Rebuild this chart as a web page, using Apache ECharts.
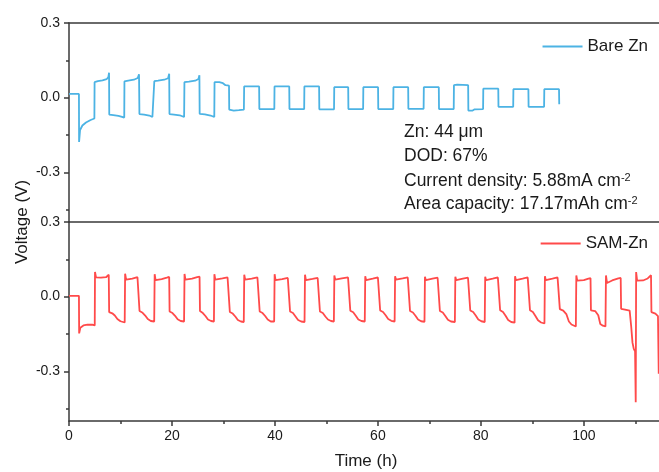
<!DOCTYPE html>
<html><head><meta charset="utf-8">
<script src="https://cdn.jsdelivr.net/npm/echarts@6/dist/echarts.min.js"></script>
<style>html,body{margin:0;padding:0;background:#fff}#c{width:659px;height:472px}</style>
</head><body><div id="c"></div>
<script>
// ---- data: [time (h), voltage (V)] ----
const bareZn = [
[0,0.015],[1.93,0.015],
[1.96,-0.178],[2.15,-0.13],[2.6,-0.112],[3.3,-0.1],[4.2,-0.09],[4.93,-0.084],
[4.97,0.062],[5.6,0.066],[6.5,0.069],[7.3,0.074],[7.65,0.083],[7.78,0.1],
[7.82,-0.068],[8.6,-0.07],[9.6,-0.073],[10.3,-0.077],[10.73,-0.08],
[10.77,0.065],[11.5,0.068],[12.6,0.072],[13.35,0.079],[13.6,0.094],
[13.68,-0.066],[14.6,-0.068],[15.6,-0.072],[16.2,-0.078],[16.52,-0.083],
[16.57,0.066],[17.3,0.068],[18.5,0.072],[19.25,0.078],[19.46,0.096],
[19.52,-0.066],[20.4,-0.068],[21.5,-0.071],[22.36,-0.078],
[22.42,0.062],[23.3,0.064],[24.5,0.068],[25.15,0.075],[25.33,0.09],
[25.38,-0.065],[26.4,-0.067],[27.5,-0.072],[28.22,-0.078],
[28.27,0.062],[29.2,0.062],[29.9,0.058],[30.4,0.05],[31.08,0.048],
[31.12,-0.048],[32,-0.052],[33,-0.05],[33.97,-0.048],
[34.02,0.045],[36.93,0.045],
[36.97,-0.046],[39.88,-0.046],
[39.92,0.045],[42.78,0.045],
[42.82,-0.046],[45.68,-0.046],
[45.72,0.045],[48.58,0.045],
[48.62,-0.047],[51.48,-0.047],
[51.52,0.042],[54.23,0.042],
[54.27,-0.046],[57.13,-0.046],
[57.17,0.042],[60.03,0.042],
[60.07,-0.046],[62.98,-0.046],
[63.02,0.042],[65.88,0.042],
[65.92,-0.045],[68.88,-0.045],
[68.92,0.042],[71.83,0.042],
[71.87,-0.046],[74.73,-0.046],
[74.77,0.05],[75.4,0.052],[77.53,0.05],
[77.57,-0.052],[78.4,-0.052],[78.8,-0.047],[80.43,-0.046],
[80.47,0.036],[83.38,0.036],
[83.42,-0.037],[86.28,-0.037],
[86.32,0.034],[89.23,0.034],
[89.27,-0.037],[92.28,-0.037],
[92.32,0.034],[95.18,0.034],
[95.22,-0.027]
];
const samZn = [
[0,0.003],[1.93,0.003],
[1.97,-0.148],[2.2,-0.125],[2.8,-0.116],[3.6,-0.113],[4.5,-0.113],[5.0,-0.116],
[5.05,0.099],[5.25,0.077],[6.2,0.076],[7.2,0.078],[7.72,0.088],
[7.8,-0.062],[8.4,-0.067],[8.9,-0.076],[9.4,-0.09],[10.0,-0.099],[10.82,-0.104],
[10.9,0.092],[11.1,0.068],[12.3,0.072],[13.3,0.078],[13.62,0.082],
[13.7,-0.058],[14.3,-0.065],[14.8,-0.076],[15.3,-0.09],[15.9,-0.098],[16.55,-0.1],
[16.64,0.09],[16.82,0.066],[18.0,0.07],[19.0,0.076],[19.46,0.079],
[19.54,-0.06],[20.1,-0.066],[20.6,-0.077],[21.1,-0.091],[21.7,-0.098],[22.35,-0.1],
[22.44,0.091],[22.62,0.068],[23.9,0.072],[24.9,0.078],[25.36,0.08],
[25.44,-0.058],[26.0,-0.066],[26.5,-0.078],[27.0,-0.092],[27.6,-0.098],[28.15,-0.1],
[28.24,0.09],[28.42,0.068],[29.8,0.073],[30.8,0.077],[31.16,0.078],
[31.24,-0.062],[31.8,-0.068],[32.3,-0.08],[32.8,-0.094],[33.4,-0.1],[33.95,-0.102],
[34.04,0.088],[34.22,0.068],[35.5,0.072],[36.6,0.077],[36.96,0.078],
[37.04,-0.06],[37.6,-0.066],[38.1,-0.078],[38.6,-0.092],[39.2,-0.1],[39.85,-0.1],
[39.94,0.09],[40.12,0.066],[41.4,0.07],[42.5,0.075],[42.86,0.076],
[42.94,-0.06],[43.5,-0.066],[44.0,-0.08],[44.5,-0.094],[45.1,-0.1],[45.75,-0.102],
[45.84,0.088],[46.02,0.066],[47.3,0.071],[48.3,0.075],[48.66,0.076],
[48.74,-0.06],[49.3,-0.066],[49.8,-0.08],[50.3,-0.092],[50.9,-0.098],[51.45,-0.1],
[51.54,0.085],[51.72,0.068],[53.0,0.073],[54.2,0.077],[54.56,0.078],
[54.64,-0.057],[55.2,-0.063],[55.7,-0.077],[56.2,-0.092],[56.8,-0.098],[57.45,-0.1],
[57.54,0.082],[57.72,0.066],[59.0,0.072],[60.0,0.077],[60.36,0.078],
[60.44,-0.056],[61.0,-0.062],[61.5,-0.075],[62.0,-0.09],[62.6,-0.097],[63.25,-0.1],
[63.34,0.082],[63.52,0.068],[64.8,0.073],[65.8,0.077],[66.16,0.078],
[66.24,-0.058],[66.8,-0.064],[67.3,-0.077],[67.8,-0.092],[68.4,-0.099],[69.05,-0.101],
[69.14,0.08],[69.32,0.066],[70.6,0.072],[71.6,0.076],[71.96,0.077],
[72.04,-0.058],[72.6,-0.064],[73.1,-0.078],[73.6,-0.093],[74.2,-0.1],[74.95,-0.102],
[75.04,0.08],[75.22,0.066],[76.5,0.072],[77.5,0.076],[77.86,0.077],
[77.94,-0.056],[78.5,-0.062],[79.0,-0.076],[79.5,-0.092],[80.1,-0.099],[80.75,-0.102],
[80.84,0.08],[81.02,0.066],[82.3,0.072],[83.3,0.077],[83.66,0.078],
[83.74,-0.055],[84.3,-0.062],[84.8,-0.077],[85.3,-0.094],[85.9,-0.102],[86.55,-0.105],
[86.64,0.082],[86.82,0.066],[88.1,0.072],[89.1,0.077],[89.46,0.078],
[89.54,-0.055],[90.1,-0.062],[90.6,-0.078],[91.1,-0.095],[91.7,-0.104],[92.35,-0.108],
[92.44,0.082],[92.62,0.066],[93.9,0.072],[94.9,0.077],[95.26,0.078],
[95.34,-0.05],[96.0,-0.056],[96.6,-0.07],[97.1,-0.1],[97.6,-0.112],[98.45,-0.12],
[98.54,0.085],[98.72,0.064],[100.0,0.066],[100.9,0.072],[101.3,0.074],
[101.38,-0.055],[102.2,-0.058],[102.8,-0.075],[103.2,-0.11],[103.7,-0.117],[104.2,-0.12],
[104.3,0.085],[104.5,0.055],[105.5,0.065],[106.7,0.073],[107.16,0.075],
[107.24,-0.049],[108.0,-0.052],[108.9,-0.056],[109.2,-0.12],[109.45,-0.185],[109.7,-0.21],[109.95,-0.22],[110.08,-0.425],
[110.16,0.099],[110.35,0.064],[111.5,0.065],[112.4,0.073],[113.05,0.086],
[113.13,-0.062],[113.9,-0.068],[114.4,-0.078],[114.55,-0.31]
];
const seriesNames = ['Bare Zn', 'SAM-Zn'];
const yTickValues = [-0.3, 0, 0.3];
const yMinorValues = [-0.45, -0.15, 0.15];
const xTickValues = [0, 20, 40, 60, 80, 100];
const xMinorValues = [10, 30, 50, 70, 90, 110];
const noteLines = ['Zn: 44 μm', 'DOD: 67%', 'Current density: 5.88mA cm{s|-2}', 'Area capacity: 17.17mAh cm{s|-2}'];

const FONT = "'Liberation Sans', Arial, sans-serif";
const AX = '#3a3a3a';
const TXT = '#1a1a1a';
const COLORS = ['#4cb3e4', '#ff4a4a'];
const X_MAX = 114.6;

function xAxisFrame(gridIndex, position) {
  return { type: 'value', gridIndex, position, min: 0, max: X_MAX,
    axisLine: { show: true, onZero: false, lineStyle: { color: AX, width: 1.5 } },
    axisTick: { show: false }, axisLabel: { show: false }, splitLine: { show: false } };
}
function yMain(gridIndex) {
  return { type: 'value', gridIndex, position: 'left', min: -0.5, max: 0.3,
    axisLine: { show: true, onZero: false, lineStyle: { color: AX, width: 1.5 } },
    axisTick: { show: true, length: 5, customValues: yTickValues, lineStyle: { color: AX, width: 1.5 } },
    axisLabel: { show: true, customValues: yTickValues, margin: 9, fontSize: 14, fontFamily: FONT, color: TXT,
      formatter: v => Number(v).toFixed(1) },
    splitLine: { show: false } };
}
function yMinor(gridIndex) {
  return { type: 'value', gridIndex, position: 'left', min: -0.5, max: 0.3,
    axisLine: { show: false, onZero: false },
    axisTick: { show: true, length: 3, customValues: yMinorValues, lineStyle: { color: AX, width: 1.5 } },
    axisLabel: { show: false }, splitLine: { show: false } };
}

const chart = echarts.init(document.getElementById('c'), null, { renderer: 'canvas' });
chart.setOption({
  animation: false,
  backgroundColor: '#fff',
  grid: [
    { left: 69, right: 0, top: 23, height: 199 },
    { left: 69, right: 0, top: 222, height: 199 }
  ],
  xAxis: [
    xAxisFrame(0, 'bottom'),
    xAxisFrame(0, 'top'),
    { type: 'value', gridIndex: 1, position: 'bottom', min: 0, max: X_MAX,
      axisLine: { show: true, onZero: false, lineStyle: { color: AX, width: 1.5 } },
      axisTick: { show: true, length: 5, customValues: xTickValues, lineStyle: { color: AX, width: 1.5 } },
      axisLabel: { show: true, customValues: xTickValues, margin: 8, fontSize: 14, fontFamily: FONT, color: TXT },
      splitLine: { show: false } },
    { type: 'value', gridIndex: 1, position: 'bottom', min: 0, max: X_MAX,
      axisLine: { show: false, onZero: false },
      axisTick: { show: true, length: 3, customValues: xMinorValues, lineStyle: { color: AX, width: 1.5 } },
      axisLabel: { show: false }, splitLine: { show: false } }
  ],
  yAxis: [yMain(0), yMinor(0), yMain(1), yMinor(1)],
  legend: [
    { data: [seriesNames[0]], right: 11, top: 38, padding: 0, icon: 'rect', itemWidth: 40, itemHeight: 2,
      textStyle: { fontSize: 17, fontFamily: FONT, color: TXT } },
    { data: [seriesNames[1]], right: 11, top: 235, padding: 0, icon: 'rect', itemWidth: 40, itemHeight: 2,
      textStyle: { fontSize: 17, fontFamily: FONT, color: TXT } }
  ],
  series: [
    { name: seriesNames[0], type: 'line', xAxisIndex: 0, yAxisIndex: 0, data: bareZn,
      symbol: 'none', showSymbol: false, color: COLORS[0],
      lineStyle: { color: COLORS[0], width: 1.8 } },
    { name: seriesNames[1], type: 'line', xAxisIndex: 2, yAxisIndex: 2, data: samZn,
      symbol: 'none', showSymbol: false, color: COLORS[1],
      lineStyle: { color: COLORS[1], width: 1.8 } }
  ],
  graphic: [
    { type: 'text', x: 22, y: 222, rotation: Math.PI / 2,
      style: { text: 'Voltage (V)', fontSize: 17, fontFamily: FONT, fill: TXT, align: 'center', verticalAlign: 'middle' } },
    { type: 'text', x: 366, y: 461,
      style: { text: 'Time (h)', fontSize: 17, fontFamily: FONT, fill: TXT, align: 'center', verticalAlign: 'middle' } }
  ].concat(noteLines.map((t, i) => ({
    type: 'text', x: 404, y: [132, 156, 181, 204][i],
    style: { text: t, fontSize: 17.5, fontFamily: FONT, fill: TXT, align: 'left', verticalAlign: 'middle',
      rich: { s: { fontSize: 11, fontFamily: FONT, fill: TXT, verticalAlign: 'top' } } }
  })))
});
</script>
</body></html>
